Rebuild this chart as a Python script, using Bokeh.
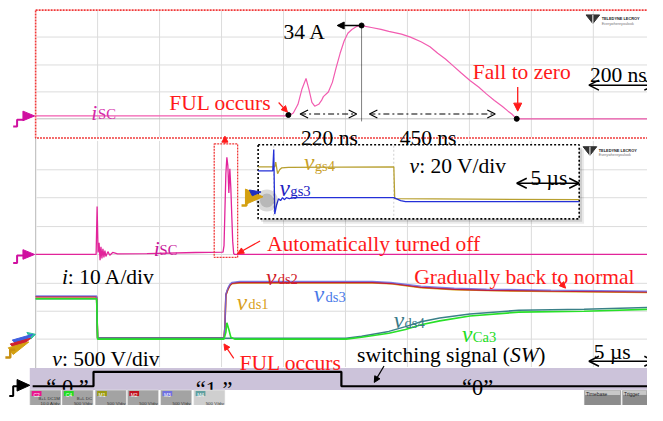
from bokeh.plotting import figure
from bokeh.models import Range1d, Arrow, NormalHead, OpenHead
from bokeh.core.properties import value
from bokeh.embed import file_html
from bokeh.resources import INLINE

FONT = "Liberation Serif"

# ---------------- data ----------------
# Zoomed capture (top): short-circuit current, 200 ns/div, t = 0 at the FUL instant
top_t_ns = [-816, 0, 16, 31, 44, 57, 66, 76, 85, 98, 107, 113, 129, 142, 154, 167, 180, 192, 205, 220,
            236, 268, 299, 324, 365, 394, 428, 457, 482, 507, 532, 557, 586, 614, 639, 665, 690, 709, 721, 737, 1159]
top_isc_A = [1.05, 1.05, 2.1, 5.3, 10.9, 14.7, 10.9, 6.0, 4.6, 5.3, 6.7, 8.1, 9.8, 13.3, 18.6, 23.9, 28.4, 31.2, 32.6, 33.7,
             34.0, 33.3, 32.6, 31.9, 30.9, 29.8, 28.1, 26.3, 23.9, 21.8, 19.3, 16.8, 14.0, 11.6, 9.1, 6.7, 4.6, 2.8, 1.75, 0.0, 0.0]

# Full capture (bottom): 5 us/div, t = 0 at the switching-signal rising edge
low_t_us = [-4.96, -0.08, 0.0, 0.08, 0.16, 0.24, 0.31, 0.39, 0.47, 0.55, 0.63, 0.71, 0.87, 1.02, 1.26, 1.65,
            4.02, 7.95, 10.16, 10.24, 10.31, 10.39, 10.47, 10.55, 10.63, 10.71, 10.79, 10.87, 10.94, 11.02, 11.10, 44.4]
low_isc_A = [0.0, 0.0, 16.9, 0.7, 4.1, -2.0, 2.7, -1.4, 2.0, -1.0, 1.4, -0.7, 1.0, -0.3, 0.7, 0.2,
             0.3, 0.7, 0.85, 3.1, 14.9, 28.5, 34.2, 31.2, 21.7, 30.2, 23.4, 13.2, 4.7, 0.3, 0.0, 0.0]

vds_t_us = [-4.96, -0.04, 0.04, 10.24, 10.31, 10.39, 10.55, 10.71, 10.87, 11.50, 15.83, 22.20, 23.70, 26.14, 28.82, 31.42, 36.61, 44.41]
vds1_V = [746, 746, 17, 17, 190, 770, 870, 940, 975, 990, 990, 990, 975, 905, 872, 855, 840, 822]
vds2_V = [746, 746, 17, 17, 203, 780, 881, 949, 983, 1000, 1000, 1000, 983, 915, 881, 864, 848, 830]
vds3_V = [763, 763, 17, 17, 220, 797, 898, 966, 1000, 1017, 1017, 1017, 1000, 932, 898, 881, 864, 847]

low2_t_us = [-4.96, -0.04, 0.04, 10.24, 10.39, 10.47, 10.63, 10.79, 11.10, 20.08, 21.34, 23.54, 24.88, 26.14, 27.64, 30.08, 34.02, 39.29, 44.41]
vca3_V = [712, 712, 0, 0, 119, 288, 170, 34, 0, 0, 34, 102, 170, 254, 322, 407, 475, 492, 525]
vds4_V = [712, 712, 17, 17, 17, 17, 17, 17, 17, 17, 51, 136, 220, 305, 373, 441, 508, 525, 559]

sw_t_us = [-5.2, -0.29, -0.29, 19.71, 19.71, 44.4]
sw_level = [0, 0, 1, 1, 0, 0]

# Inset: gate-source voltages, 20 V/div, 5 us/div
gs3_t_us = [-1.26, -0.08, 0.0, 0.08, 0.24, 0.39, 0.55, 0.71, 0.87, 1.02, 1.26, 1.57, 9.69, 10.24, 10.63, 24.65]
vgs3_V = [12.3, 12.3, 27.0, -17.7, -11.0, -7.0, -8.3, -6.3, -7.7, -6.3, -7.0, -6.3, -6.3, -8.3, -9.0, -9.0]
gs4_t_us = [-1.26, 0.08, 0.16, 0.31, 0.47, 0.63, 1.18, 9.69, 9.76, 24.65]
vgs4_V = [15.0, 15.0, 18.3, 10.3, 13.0, 14.3, 14.7, 15.0, -7.0, -7.7]

status_tags = ["C2", "C4", "M1", "M2", "M3", "M4"]
status_colors = ["#e8168c", "#22dd22", "#9a9a10", "#c01020", "#7070e0", "#60a0a0"]
status_line1 = ["B+L DC1M", "B+L DC", "", "", "", ""]
status_line2 = ["10.0 A/div", "500 V/div", "500 V/div", "500 V/div", "500 V/div", "500 V/div"]

# ---------------- figure ----------------
W, H = 647, 405
S = W / 663.0
p = figure(width=W, height=H, x_range=Range1d(0, 663), y_range=Range1d(421, 0),
           output_backend="svg", toolbar_location=None, min_border=0,
           x_axis_location=None, y_axis_location=None)
p.xgrid.visible = False
p.ygrid.visible = False
p.outline_line_color = None
p.background_fill_color = "white"
p.border_fill_color = "white"

p.extra_x_ranges = {"t_top": Range1d(-929.1, 1159.1), "t_low": Range1d(-7.795, 44.41),
                    "t_in": Range1d(-22.05, 30.16)}
p.extra_y_ranges = {"i_top": Range1d(-104.56, 43.16), "i_low": Range1d(-53.22, 89.49),
                    "v_low": Range1d(-1169.6, 5966.4), "v_in": Range1d(-150.33, 130.33),
                    "sw": Range1d(-1.333, 26.733)}

GRID = "#dcdcdc"
vx = [99.5, 163, 226.5, 290, 353.5, 417, 480.5, 544, 607.5]
# top panel grid
p.segment(x0=vx, y0=[11] * 9, x1=vx, y1=[142] * 9, line_color=GRID, line_width=1)
p.segment(x0=[37] * 3, y0=[38, 67, 95], x1=[663] * 3, y1=[38, 67, 95], line_color=GRID, line_width=1)
p.segment(x0=[37], y0=[123], x1=[663], y1=[123], line_color="#bdbdbd", line_width=1)
# lower panel grid
p.segment(x0=vx, y0=[146] * 9, x1=vx, y1=[381] * 9, line_color=GRID, line_width=1)
hy = [176, 205, 235, 264, 294, 323, 352]
p.segment(x0=[37] * 7, y0=hy, x1=[663] * 7, y1=hy, line_color=GRID, line_width=1)
p.segment(x0=[36], y0=[143], x1=[36], y1=[382], line_color="#c4c4c4", line_width=1.2)

# top panel border
p.quad(left=[36], right=[670], top=[10], bottom=[143], fill_color=None,
       line_color="#f03a3a", line_width=1.6, line_dash="2 1")

# SW band
p.quad(left=[30], right=[670], top=[382], bottom=[405], fill_color="#ccc3da", line_color=None)

# ---------------- traces ----------------
p.line(top_t_ns, top_isc_A, x_range_name="t_top", y_range_name="i_top", line_color="#f25cb0", line_width=1.2)
p.line(low_t_us, low_isc_A, x_range_name="t_low", y_range_name="i_low", line_color="#e2249a", line_width=1.3)
p.line(vds_t_us, vds1_V, x_range_name="t_low", y_range_name="v_low", line_color="#d8a818", line_width=1.5)
p.line(vds_t_us, vds2_V, x_range_name="t_low", y_range_name="v_low", line_color="#c0203c", line_width=1.6)
p.line(vds_t_us, vds3_V, x_range_name="t_low", y_range_name="v_low", line_color="#6a6ee6", line_width=1.3, line_alpha=0.85)
p.line(low2_t_us, vds4_V, x_range_name="t_low", y_range_name="v_low", line_color="#3a8088", line_width=1.5)
p.line(low2_t_us, vca3_V, x_range_name="t_low", y_range_name="v_low", line_color="#28e028", line_width=1.6)
p.line(sw_t_us, sw_level, x_range_name="t_low", y_range_name="sw", line_color="black", line_width=2.2)

# ---------------- inset ----------------
p.quad(left=[269], right=[598], top=[155], bottom=[232], fill_color="#000000", fill_alpha=0.08, line_color=None)
p.quad(left=[267], right=[596], top=[153], bottom=[230], fill_color="#000000", fill_alpha=0.12, line_color=None)
p.quad(left=[264], right=[593], top=[150], bottom=[227], fill_color="white", line_color="black",
       line_width=1.6, line_dash="2 2")
p.segment(x0=[280, 403], y0=[151, 151], x1=[280, 403], y1=[226, 226], line_color="#cfcfcf", line_dash="2 2")
p.line(gs4_t_us, vgs4_V, x_range_name="t_in", y_range_name="v_in", line_color="#b8a030", line_width=1.3)
p.line(gs3_t_us, vgs3_V, x_range_name="t_in", y_range_name="v_in", line_color="#2430d8", line_width=1.3)
# inset trigger marker with blurred shadow
p.scatter(x=[273, 273], y=[208, 208], size=[22, 14], color="black", alpha=0.15, line_color=None)
p.patch(x=[251, 269, 251], y=[196, 204, 212], color="#d4a010")
p.patch(x=[255, 267, 258], y=[197, 199, 203], color="#2030c0")
p.line(x=[247, 252, 252, 257], y=[213, 213, 204, 204], line_color="#d4a010", line_width=2.5)

# ---------------- side markers ----------------
MAG = "#d010a0"
p.patch(x=[23, 35, 23], y=[115, 120, 125], color=MAG)
p.line(x=[13, 17, 17, 24], y=[131, 131, 124, 124], line_color=MAG, line_width=2)
p.patch(x=[23, 35, 23], y=[259, 264, 269], color=MAG)
p.line(x=[13, 17, 17, 24], y=[273, 273, 265, 265], line_color=MAG, line_width=2)
p.patches(xs=[[27, 36, 31], [12, 33, 19], [10, 31, 16], [8, 29, 13]],
          ys=[[345, 347, 352], [353, 347, 360], [357, 351, 364], [361, 355, 368]],
          color=["#30c0a0", "#4060e0", "#d02030", "#d4a010"])
p.line(x=[5, 10, 10, 15], y=[371, 371, 363, 363], line_color="#c89010", line_width=2.5)
p.patch(x=[17, 30, 17], y=[394, 400, 406], color="black")
p.line(x=[9, 13, 13, 18], y=[411, 411, 401, 401], line_color="black", line_width=2)

# ---------------- helpers ----------------
def txt(x, y, s, color="black", size=22, style="normal", align="left", baseline="alphabetic", font=FONT):
    p.text(x=[x], y=[y], text=[s], text_color=color, text_font=value(font),
           text_font_size=f"{size * S:.1f}px", text_font_style=style, text_align=align,
           text_baseline=baseline)


def arrow(x0, y0, x1, y1, color="black", size=7, width=1.3, dash="solid", both=False, open_head=False):
    def head():
        if open_head:
            return OpenHead(size=size, line_color=color, line_width=width)
        return NormalHead(size=size, fill_color=color, line_color=color)
    a = Arrow(end=head(), start=head() if both else None, x_start=x0, y_start=y0, x_end=x1, y_end=y1,
              line_color=color, line_width=width, line_dash=dash)
    p.add_layout(a)


RED = "#ff1a1a"

# ---------------- top annotations ----------------
p.line(x=[370, 370], y=[26, 126], line_color="black", line_width=1, line_dash="1 1")
arrow(370, 26, 345, 26, size=7)
p.scatter(x=[370, 295, 529], y=[26, 119, 123], size=5, color="black")
arrow(307, 118, 365, 118, both=True, open_head=True, size=8, width=1.1, dash="6 3 2 3")
arrow(378, 118, 507, 118, both=True, open_head=True, size=8, width=1.1, dash="6 3 2 3")
txt(290, 33, "34 A")
txt(173, 107, "FUL occurs", color=RED)
arrow(285, 106, 294, 116, color=RED, size=6, width=1.2)
txt(308, 143, "220 ns")
txt(409, 143, "450 ns")
txt(484, 74, "Fall to zero", color=RED)
arrow(530, 90, 530, 115, color=RED, size=8, width=1.3)
txt(604, 77, "200 ns")
arrow(603, 88, 670, 88, both=True, open_head=True, size=10, width=1.5)
txt(93, 117, "i", color="#d42aa8", size=22, style="italic")
txt(100, 118, "SC", color="#d42aa8", size=15)


def logo(x, y):
    p.patch(x=[x, x + 14, x + 7], y=[y, y, y + 9], color="#333333")
    p.line(x=[x + 7, x + 7], y=[y, y + 10], line_color="white", line_width=1)
    txt(x + 16, y + 4, "TELEDYNE LECROY", size=4.0, style="bold", font="Liberation Sans", color="#222222")
    txt(x + 16, y + 9, "Everywhereyoulook", size=3.8, font="Liberation Sans", color="#777777")


logo(600, 15)
logo(597, 152)

# ---------------- lower annotations ----------------
p.quad(left=[219], right=[243], top=[149], bottom=[267], fill_color=None,
       line_color="#f03a3a", line_width=1.3, line_dash="2 1")
arrow(230, 149, 230, 141, color=RED, size=6, width=1.2)
txt(273, 253, "Automatically turned off", color=RED)
arrow(266, 250, 243, 263, color=RED, size=6, width=1.2)
txt(157, 258, "i", color="#c8189a", size=22, style="italic")
txt(163, 259, "SC", color="#c8189a", size=15)

txt(311, 168, "v", color="#c8a028", size=24, style="italic")
txt(322, 172, "gs4", color="#c8a028", size=15)
txt(286, 195, "v", color="#2222c0", size=24, style="italic")
txt(297, 198, "gs3", color="#2222c0", size=15)
txt(419, 172, "v", size=22, style="italic")
txt(429, 172, ": 20 V/div")
txt(543, 185, "5 µs")
arrow(529, 190, 593, 190, both=True, open_head=True, size=10, width=1.5)

txt(63, 287, "i", size=22, style="italic")
txt(69, 287, ": 10 A/div")
txt(272, 287, "v", color="#d0202a", size=24, style="italic")
txt(284, 290, "ds2", color="#d0202a", size=15)
txt(242, 313, "v", color="#d8a020", size=24, style="italic")
txt(254, 316, "ds1", color="#d8a020", size=15)
txt(321, 305, "v", color="#4a7ae8", size=24, style="italic")
txt(333, 308, "ds3", color="#4a7ae8", size=15)
txt(403, 332, "v", color="#3a7a88", size=24, style="italic")
txt(414, 335, "ds4", color="#3a7a88", size=15)
txt(473, 347, "v", color="#22dd22", size=24, style="italic")
txt(484, 350, "Ca3", color="#22dd22", size=15)
txt(424, 287, "Gradually back to normal", color=RED)
arrow(571, 290, 579, 299, color=RED, size=6, width=1.2)

txt(53, 373, "v", size=22, style="italic")
txt(63, 373, ": 500 V/div")
txt(245, 377, "FUL occurs", color=RED)
arrow(239, 372, 229, 357, color=RED, size=6, width=1.2)
txt(522, 368, "switching signal (", align="right")
txt(522, 368, "SW", style="italic")
txt(551, 368, ")")
arrow(393, 380, 383, 397, size=6, width=1.2)
txt(608, 365, "5 µs")
arrow(603, 375, 670, 375, both=True, open_head=True, size=10, width=1.5)

txt(47, 402, "“ 0 ”", size=23)
txt(200, 404, "“1 ”", size=23)
txt(473, 402, "“0”", size=23)

# ---------------- status bar ----------------
bx = [30, 63, 97, 130, 164, 198]
p.quad(left=bx, right=[b + 32 for b in bx], top=[405] * 6, bottom=[421] * 6,
       fill_color=["#a3a3a3"] * 5 + ["#cfcfcf"], line_color="#eeeeee", line_width=0.5)
p.quad(left=[b + 2 for b in bx], right=[b + 12 for b in bx], top=[406] * 6, bottom=[411] * 6,
       fill_color=status_colors, line_color=None)
for b, tag, l1, l2 in zip(bx, status_tags, status_line1, status_line2):
    txt(b + 7, 410.5, tag, size=5, font="Liberation Sans", color="white", align="center")
    txt(b + 31, 414, l1, size=4.5, font="Liberation Sans", color="#333333", align="right")
    txt(b + 31, 419, l2, size=4.5, font="Liberation Sans", color="#333333", align="right")
p.quad(left=[598, 637], right=[636, 663], top=[405, 405], bottom=[421, 421],
       fill_color="#8c8c8c", line_color="#eeeeee", line_width=0.5)
p.quad(left=[599, 638], right=[635, 662], top=[405.5, 405.5], bottom=[410, 410],
       fill_color="#c8c8c8", line_color=None)
txt(600, 409.5, "Timebase", size=5, font="Liberation Sans", color="#222222")
txt(639, 409.5, "Trigger", size=5, font="Liberation Sans", color="#222222")

open("out.html", "w").write(file_html(p, INLINE))
